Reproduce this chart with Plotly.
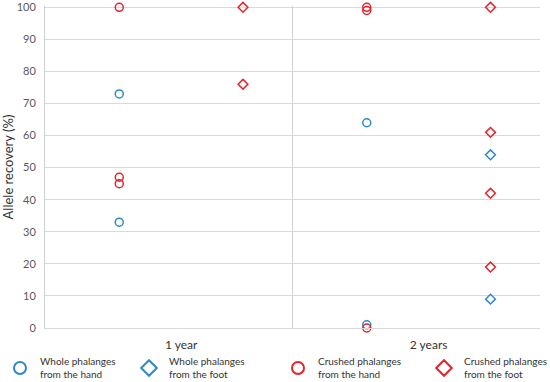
import plotly.graph_objects as go

categories = ["1 year", "2 years"]
y_ticks = [0, 10, 20, 30, 40, 50, 60, 70, 80, 90, 100]

# values per category, per series
whole_hand = [[73, 33], [64, 1]]
whole_foot = [[], [54, 9]]
crushed_hand = [[100, 47, 45], [100, 99, 0]]
crushed_foot = [[100, 76], [100, 61, 42, 19]]

series_names = [
    "Whole phalanges<br>from the hand",
    "Whole phalanges<br>from the foot",
    "Crushed phalanges<br>from the hand",
    "Crushed phalanges<br>from the foot",
]

BLUE = "#2e89c4"
RED = "#e3242b"
FONT = "Lato"

series = [
    (whole_hand, series_names[0], "circle-open", BLUE, 0.3, "legend"),
    (whole_foot, series_names[1], "diamond-open", BLUE, 0.8, "legend2"),
    (crushed_hand, series_names[2], "circle-open", RED, 0.3, "legend3"),
    (crushed_foot, series_names[3], "diamond-open", RED, 0.8, "legend4"),
]

fig = go.Figure()
for vals, name, sym, col, off, lg in series:
    xs, ys = [], []
    for ci, v in enumerate(vals):
        for val in v:
            xs.append(ci + off)
            ys.append(val)
    fig.add_trace(go.Scatter(
        x=xs, y=ys, mode="markers", name=name, cliponaxis=False, legend=lg,
        marker=dict(symbol=sym, size=8 if "circle" in sym else 7.5, color=col,
                    line=dict(width=1.5, color=col)),
    ))

fig.add_shape(type="line", xref="x", yref="paper", x0=1, x1=1, y0=0, y1=1,
              line=dict(color="#d0d0d0", width=1), layer="below")

def legend_at(px):
    return dict(orientation="h", xref="container", yref="container",
                x=max(px - 20, 0) / 550, y=1 - 368 / 382, xanchor="left", yanchor="middle",
                itemsizing="constant", font=dict(family=FONT, size=10, color="#333333"),
                bgcolor="rgba(0,0,0,0)")

fig.update_layout(
    width=550, height=382,
    margin=dict(l=45, r=10, t=6, b=54, autoexpand=False),
    paper_bgcolor="white", plot_bgcolor="white",
    font=dict(family=FONT, color="#404040"),
    showlegend=True,
    legend=legend_at(6),
    legend2=legend_at(149),
    legend3=legend_at(298),
    legend4=legend_at(444),
    xaxis=dict(range=[0, 2], tickvals=[0.55, 1.55], ticktext=categories,
               showgrid=False, zeroline=False, showline=True, linecolor="#d9d9d9",
               automargin=False,
               tickfont=dict(size=12, color="#333333"), ticks="", ticklen=0,
               ticklabelstandoff=6, fixedrange=True),
    yaxis=dict(range=[0, 100.4], tickvals=y_ticks, showgrid=True,
               gridcolor="#d9d9d9", gridwidth=1, zeroline=False, automargin=False,
               showline=True, linecolor="#d0d0d0", linewidth=1,
               tickfont=dict(size=11, color="#595959"), ticks="",
               ticklabelstandoff=6, ticklabeloverflow="allow",
               title=dict(text="Allele recovery (%)", font=dict(size=13, color="#333333"),
                          standoff=10)),
)

fig.write_html("out.html", config={"displayModeBar": False},
               post_script="document.body.style.margin='0';document.body.style.overflow='hidden';")
